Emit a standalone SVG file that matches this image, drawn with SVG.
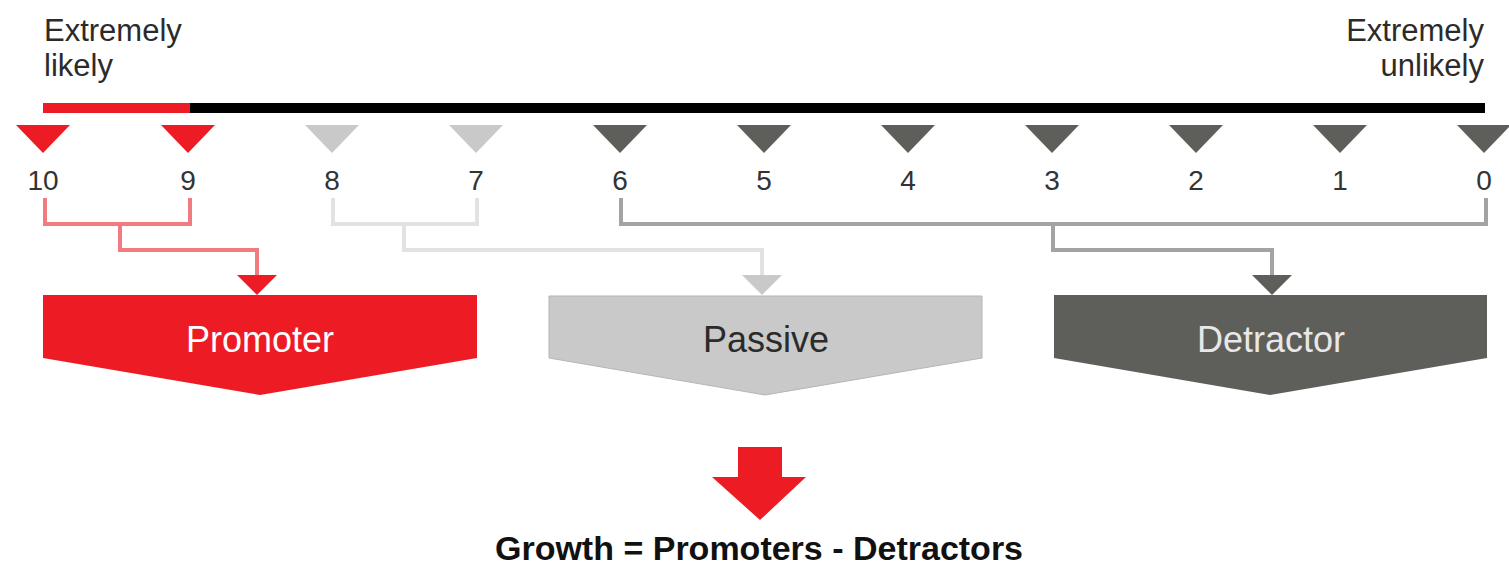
<svg xmlns="http://www.w3.org/2000/svg" width="1509" height="569" viewBox="0 0 1509 569">
<style>
.lbl{font-family:"Liberation Sans",Arial,sans-serif;font-size:31px;fill:#2b2b2b}
.num{font-family:"Liberation Sans",Arial,sans-serif;font-size:28px;fill:#333;text-anchor:middle}
.box{font-family:"Liberation Sans",Arial,sans-serif;font-size:36px;text-anchor:middle}
.red{fill:#ed1c24}
.lgt{fill:#c9c9c9}
.drk{fill:#5e5f5b}
.cr{fill:none;stroke:#f07c82;stroke-width:4}
.cl{fill:none;stroke:#e2e2e2;stroke-width:4}
.cd{fill:none;stroke:#a3a3a3;stroke-width:4}
</style>
<rect width="1509" height="569" fill="#fff"/>
<g id="label-likely">
<text class="lbl" x="44" y="41">Extremely</text>
<text class="lbl" x="44" y="76">likely</text>
</g>
<g id="label-unlikely">
<text class="lbl" x="1484" y="41" text-anchor="end">Extremely</text>
<text class="lbl" x="1484" y="76" text-anchor="end">unlikely</text>
</g>
<g id="scale-bar">
<rect x="43" y="103" width="147" height="10" class="red"/>
<rect x="190" y="103" width="1295" height="10" fill="#000"/>
</g>
<g id="ticks">
<g id="tick-10"><polygon class="red" points="16,125 70,125 43,153"/><text class="num" x="43" y="190">10</text></g>
<g id="tick-9"><polygon class="red" points="161,125 215,125 188,153"/><text class="num" x="188" y="190">9</text></g>
<g id="tick-8"><polygon class="lgt" points="305,125 359,125 332,153"/><text class="num" x="332" y="190">8</text></g>
<g id="tick-7"><polygon class="lgt" points="449,125 503,125 476,153"/><text class="num" x="476" y="190">7</text></g>
<g id="tick-6"><polygon class="drk" points="593,125 647,125 620,153"/><text class="num" x="620" y="190">6</text></g>
<g id="tick-5"><polygon class="drk" points="737,125 791,125 764,153"/><text class="num" x="764" y="190">5</text></g>
<g id="tick-4"><polygon class="drk" points="881,125 935,125 908,153"/><text class="num" x="908" y="190">4</text></g>
<g id="tick-3"><polygon class="drk" points="1025,125 1079,125 1052,153"/><text class="num" x="1052" y="190">3</text></g>
<g id="tick-2"><polygon class="drk" points="1169,125 1223,125 1196,153"/><text class="num" x="1196" y="190">2</text></g>
<g id="tick-1"><polygon class="drk" points="1313,125 1367,125 1340,153"/><text class="num" x="1340" y="190">1</text></g>
<g id="tick-0"><polygon class="drk" points="1457,125 1511,125 1484,153"/><text class="num" x="1484" y="190">0</text></g>
</g>
<g id="connectors">
<path class="cr" d="M45 198 V224 H190 V198 M120 224 V250 H257 V278"/>
<polygon class="red" points="237,275 277,275 257,295"/>
<path class="cl" d="M333 198 V224 H477 V198 M404 224 V250 H762 V278"/>
<polygon class="lgt" points="742,275 782,275 762,295"/>
<path class="cd" d="M621 198 V224 H1486 V198 M1053 224 V250 H1272 V278"/>
<polygon class="drk" points="1252,275 1292,275 1272,295"/>
</g>
<g id="promoter">
<polygon class="red" points="43,295 477,295 477,358 260,395 43,358"/>
<text class="box" x="260" y="352" fill="#fff">Promoter</text>
</g>
<g id="passive">
<polygon class="lgt" points="549,296 982,296 982,358 765,395 549,358" stroke="#b5b5b5" stroke-width="1"/>
<text class="box" x="766" y="352" fill="#2b2b2b">Passive</text>
</g>
<g id="detractor">
<polygon class="drk" points="1054,295 1487,295 1487,358 1270,395 1054,358"/>
<text class="box" x="1271" y="352" fill="#e8e8e8">Detractor</text>
</g>
<g id="growth">
<polygon class="red" points="738,447 782,447 782,477 806,477 760,520 712,477 738,477"/>
<text x="759" y="560" text-anchor="middle" font-family="'Liberation Sans',Arial,sans-serif" font-size="34" font-weight="bold" fill="#111">Growth = Promoters - Detractors</text>
</g>
</svg>
